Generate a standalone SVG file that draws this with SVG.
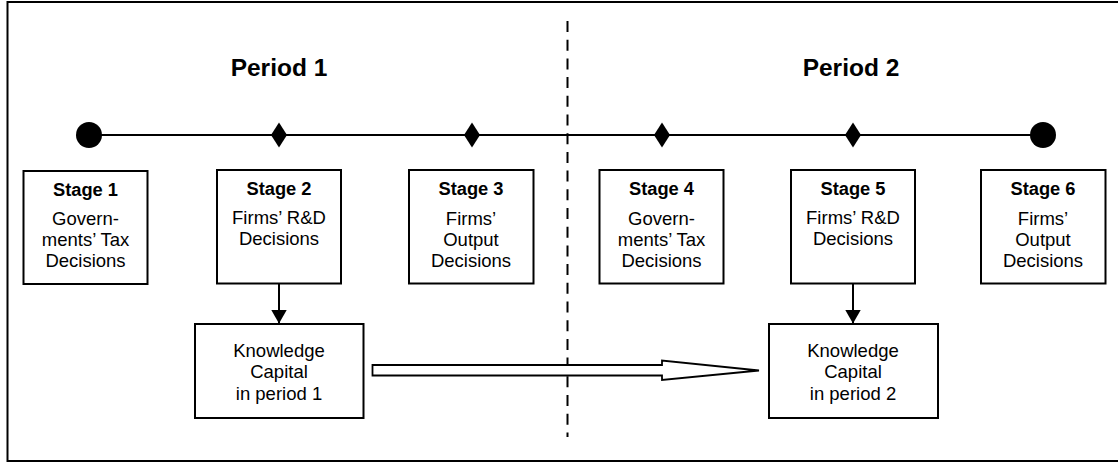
<svg xmlns="http://www.w3.org/2000/svg" width="1118" height="463" viewBox="0 0 1118 463">
<style>
.box{fill:#fff;stroke:#000;stroke-width:2}
.t{font-family:"Liberation Sans",Arial,sans-serif;font-size:18.5px;text-anchor:middle;fill:#000}
.b{font-weight:bold;font-size:18.3px}
.p{font-family:"Liberation Sans",Arial,sans-serif;font-size:24.5px;font-weight:bold;text-anchor:middle;fill:#000}
</style>
<defs>
<marker id="ah" markerWidth="14" markerHeight="16" refX="14" refY="8" orient="auto" markerUnits="userSpaceOnUse">
<path d="M0,0 L14,8 L0,16 Z" fill="#000"/>
</marker>
</defs>
<rect x="0" y="0" width="1118" height="463" fill="#fff"/>
<rect id="frame" x="7.5" y="2" width="1120" height="459" fill="none" stroke="#000" stroke-width="2"/>
<text class="p" x="279" y="75.5">Period 1</text>
<text class="p" x="851" y="75.5">Period 2</text>
<g id="timeline">
<line x1="89" y1="135" x2="1043" y2="135" stroke="#000" stroke-width="2"/>
<circle cx="89" cy="135" r="13" fill="#000"/>
<circle cx="1043" cy="135" r="13" fill="#000"/>
<path d="M279,122.5 L287,135 L279,147.5 L271,135 Z" fill="#000"/>
<path d="M472,122.5 L480,135 L472,147.5 L464,135 Z" fill="#000"/>
<path d="M662,122.5 L670,135 L662,147.5 L654,135 Z" fill="#000"/>
<path d="M853,122.5 L861,135 L853,147.5 L845,135 Z" fill="#000"/>
</g>
<line id="divider" x1="567.5" y1="21" x2="567.5" y2="437" stroke="#000" stroke-width="2" stroke-dasharray="11 7.7"/>
<g id="stage1"><rect class="box" x="23.5" y="171" width="124" height="113"/>
<text class="t b" x="85.5" y="195.5">Stage 1</text>
<text class="t" x="85.5" y="224.5">Govern-</text><text class="t" x="85.5" y="245.5">ments’ Tax</text><text class="t" x="85.5" y="266.5">Decisions</text></g>
<g id="stage2"><rect class="box" x="217" y="170" width="124" height="113.5"/>
<text class="t b" x="279" y="195">Stage 2</text>
<text class="t" x="279" y="223.5">Firms’ R&amp;D</text><text class="t" x="279" y="244.5">Decisions</text></g>
<g id="stage3"><rect class="box" x="409" y="170" width="124.5" height="113.5"/>
<text class="t b" x="471" y="195">Stage 3</text>
<text class="t" x="471" y="224.5">Firms’</text><text class="t" x="471" y="245.5">Output</text><text class="t" x="471" y="266.5">Decisions</text></g>
<g id="stage4"><rect class="box" x="599.5" y="170" width="124" height="113.5"/>
<text class="t b" x="661.5" y="195">Stage 4</text>
<text class="t" x="661.5" y="224.5">Govern-</text><text class="t" x="661.5" y="245.5">ments’ Tax</text><text class="t" x="661.5" y="266.5">Decisions</text></g>
<g id="stage5"><rect class="box" x="791" y="170" width="124" height="113.5"/>
<text class="t b" x="853" y="195">Stage 5</text>
<text class="t" x="853" y="223.5">Firms’ R&amp;D</text><text class="t" x="853" y="244.5">Decisions</text></g>
<g id="stage6"><rect class="box" x="981" y="170" width="124.5" height="113.5"/>
<text class="t b" x="1043" y="195">Stage 6</text>
<text class="t" x="1043" y="224.5">Firms’</text><text class="t" x="1043" y="245.5">Output</text><text class="t" x="1043" y="266.5">Decisions</text></g>
<g id="kc1"><rect class="box" x="195" y="324" width="168.5" height="94"/>
<text class="t" x="279" y="356.5">Knowledge</text><text class="t" x="279" y="378">Capital</text><text class="t" x="279" y="399.5">in period 1</text></g>
<g id="kc2"><rect class="box" x="769" y="324" width="169" height="94"/>
<text class="t" x="853" y="356.5">Knowledge</text><text class="t" x="853" y="378">Capital</text><text class="t" x="853" y="399.5">in period 2</text></g>
<g id="connectors">
<line x1="279" y1="284" x2="279" y2="323.5" stroke="#000" stroke-width="2" marker-end="url(#ah)"/>
<line x1="853" y1="284" x2="853" y2="323.5" stroke="#000" stroke-width="2" marker-end="url(#ah)"/>
<path d="M372.5,365 L662,365 L662,360.5 L759,370.5 L662,380 L662,375.5 L372.5,375.5 Z" fill="#fff" stroke="#000" stroke-width="1.8" stroke-linejoin="miter"/>
</g>
</svg>
